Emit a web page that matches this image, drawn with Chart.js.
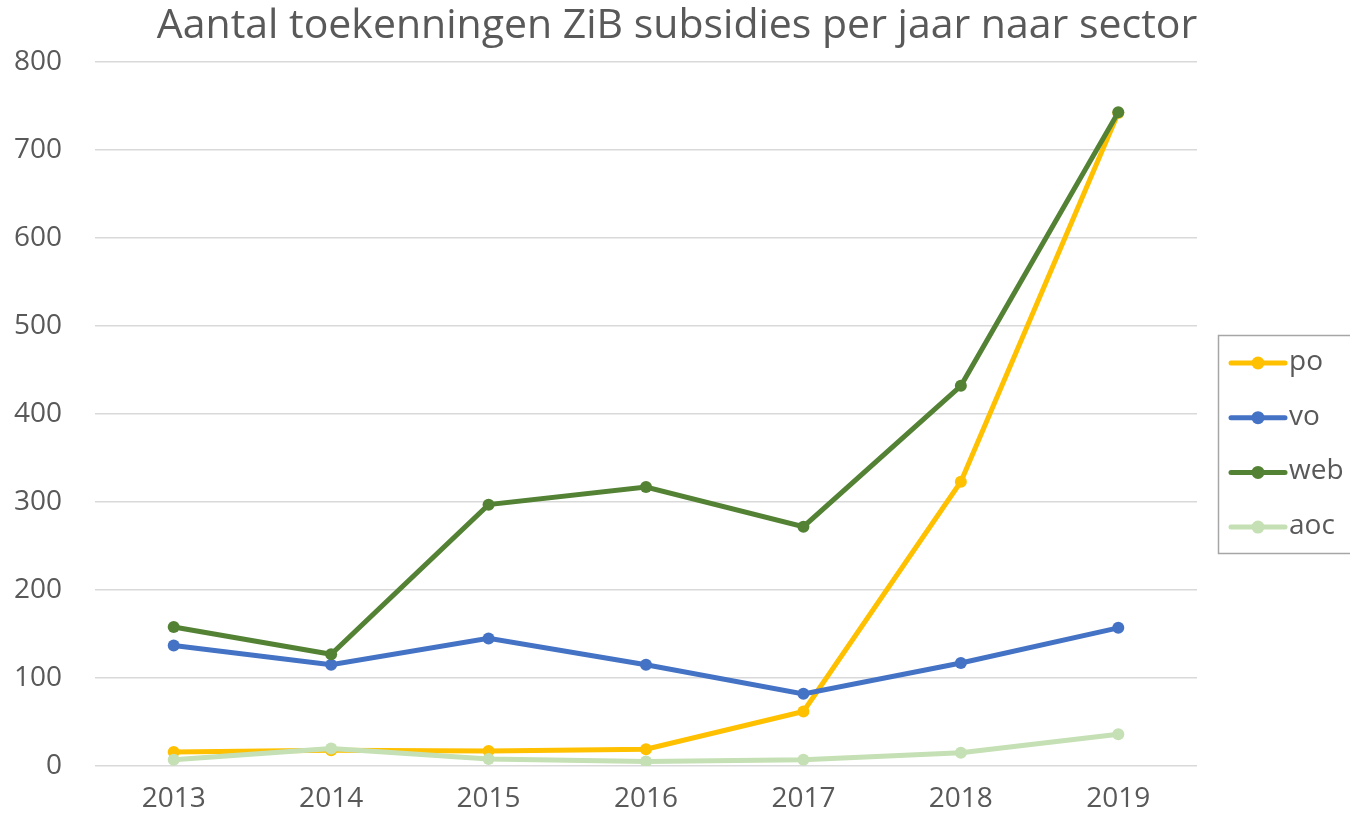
<!DOCTYPE html>
<html>
<head>
<meta charset="utf-8">
<script src="https://cdn.jsdelivr.net/npm/chart.js@4"></script>
<style>
  html, body { margin: 0; padding: 0; background: #fff; }
  #wrap { width: 1350px; height: 822px; position: relative; }
</style>
</head>
<body>
<div id="wrap"><canvas id="zibChart"></canvas></div>
<script>
// Data
const years = ['2013', '2014', '2015', '2016', '2017', '2018', '2019'];
const poValues = [16, 18, 17, 19, 62, 323, 742];
const voValues = [137, 115, 145, 115, 82, 117, 157];
const webValues = [158, 127, 297, 317, 272, 432, 743];
const aocValues = [7, 20, 8, 5, 7, 15, 36];
const yTicks = [0, 100, 200, 300, 400, 500, 600, 700, 800];
const chartTitle = 'Aantal toekenningen ZiB subsidies per jaar naar sector';

const textColor = '#595959';
const fontFamily = '"Open Sans", "Noto Sans", sans-serif';

// Title and legend drawn by hand so they sit where the original has them
const titleAndLegend = {
    id: 'titleAndLegend',
    afterDraw(chart) {
        const ctx = chart.ctx;
        ctx.save();

        // title, centred over plot + legend
        ctx.fillStyle = textColor;
        ctx.font = '41px ' + fontFamily;
        ctx.textAlign = 'center';
        ctx.textBaseline = 'alphabetic';
        ctx.fillText(chartTitle, 677, 38);

        // legend box
        ctx.strokeStyle = '#a6a6a6';
        ctx.lineWidth = 1.5;
        ctx.strokeRect(1218.5, 335.5, 140, 218);
        chart.data.datasets.forEach((ds, i) => {
            const y = 363 + i * 54.7;
            ctx.strokeStyle = ds.borderColor;
            ctx.lineWidth = 5;
            ctx.lineCap = 'round';
            ctx.beginPath();
            ctx.moveTo(1231, y);
            ctx.lineTo(1285, y);
            ctx.stroke();
            ctx.fillStyle = ds.borderColor;
            ctx.beginPath();
            ctx.arc(1258, y, 6.5, 0, Math.PI * 2);
            ctx.fill();
            ctx.fillStyle = textColor;
            ctx.font = '28px ' + fontFamily;
            ctx.textAlign = 'left';
            ctx.textBaseline = 'middle';
            ctx.fillText(ds.label, 1289, y - 1);
        });
        ctx.restore();
    }
};

function makeSet(label, data, color, order) {
    return {
        label: label,
        data: data,
        borderColor: color,
        backgroundColor: color,
        borderWidth: 5,
        pointRadius: 6,
        pointHoverRadius: 6,
        pointBorderWidth: 0,
        tension: 0,
        order: order
    };
}

const ctx = document.getElementById('zibChart').getContext('2d');
new Chart(ctx, {
    type: 'line',
    data: {
        labels: years,
        datasets: [
            makeSet('po', poValues, '#FFC000', 3),
            makeSet('vo', voValues, '#4472C4', 2),
            makeSet('web', webValues, '#548235', 1),
            makeSet('aoc', aocValues, '#C5E0B4', 0)
        ]
    },
    options: {
        responsive: true,
        maintainAspectRatio: false,
        animation: false,
        layout: { padding: { left: 0, right: 153, top: 62, bottom: 0 } },
        plugins: {
            legend: { display: false },
            tooltip: { enabled: false },
            title: { display: false }
        },
        scales: {
            x: {
                offset: true,
                grid: { display: false, drawTicks: false },
                border: { display: false },
                ticks: {
                    color: textColor,
                    font: { family: fontFamily, size: 28 },
                    padding: 16,
                    maxRotation: 0
                },
                afterFit(scale) { scale.height = 56; }
            },
            y: {
                min: 0,
                max: 800,
                afterBuildTicks(scale) {
                    scale.ticks = yTicks.map(v => ({ value: v }));
                },
                grid: { color: '#d9d9d9', lineWidth: 1.5, drawTicks: false },
                border: { display: false },
                ticks: {
                    color: textColor,
                    font: { family: fontFamily, size: 28 },
                    padding: 33
                },
                afterFit(scale) { scale.width = 95; }
            }
        }
    },
    plugins: [titleAndLegend]
});
</script>
</body>
</html>
